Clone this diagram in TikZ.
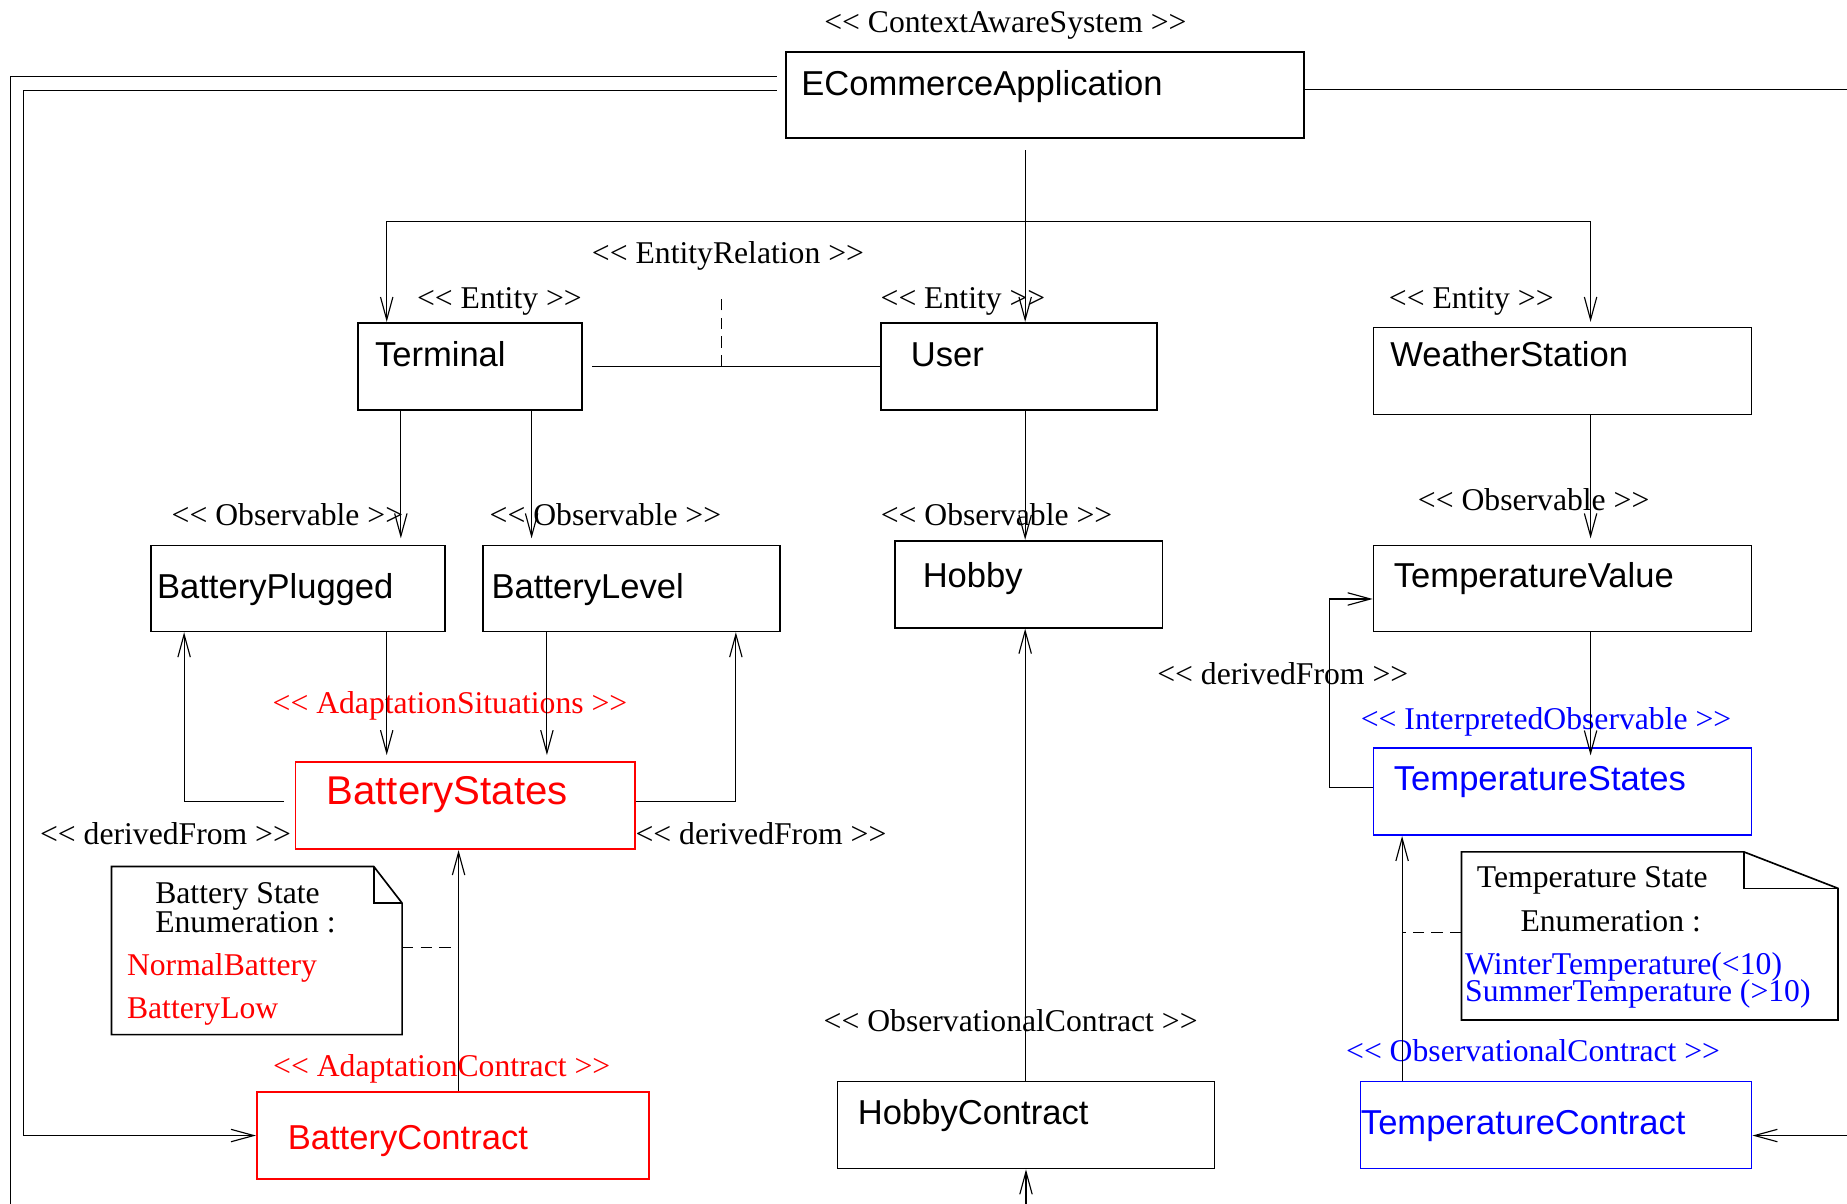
\documentclass[tikz,border=0pt]{standalone}
\usepackage{fontspec}
\setmainfont{Liberation Serif}
\newfontfamily\classfont{Liberation Sans}
\usetikzlibrary{arrows.meta}
\tikzstyle{conn} = [line width=0.55pt]
\tikzstyle{arrow} = [conn,->,>={Straight Barb[length=11pt,width=6pt]}]
\tikzstyle{dashline} = [conn,dash pattern=on 5.5pt off 3.5pt]
\tikzstyle{classbox} = [draw,line width=0.8pt,inner sep=0pt]
\tikzstyle{notebox} = [line width=0.8pt]
\tikzstyle{stereo} = [inner sep=0pt,anchor=base,font=\fontsize{15.3}{18}\selectfont]
\tikzstyle{notetext} = [inner sep=0pt,anchor=base west,font=\fontsize{15.3}{18}\selectfont]

\begin{document}
\begin{tikzpicture}[x=0.02cm,y=-0.02cm]
	\def \px {0.02cm}
	\useasboundingbox (0,0) rectangle (1568,1022);
	\coordinate (outB) at (9,1022);
	\coordinate (outR) at (1568,76);
	\coordinate (inR) at (1568,964);
	\coordinate (inB) at (871,1022);
	\coordinate (bus) at (871,188);
	% classes
	\foreach \nm/\lx/\ty/\rx/\by/\tx/\tb/\col/\fs/\txt in {
		ecom/667/44/1107/117/680/81/black/16.7/ECommerceApplication,
		term/304/274/494/348/318/311/black/16.7/Terminal,
		user/748/274/982/348/773/311/black/16.7/User,
		ws/1166/278/1487/352/1180/311/black/16.7/WeatherStation,
		bplug/128/463/378/536/133/508/black/16.7/BatteryPlugged,
		blev/410/463/662/536/417/508/black/16.7/BatteryLevel,
		hobby/760/459/987/533/783/499/black/16.7/Hobby,
		tval/1166/463/1487/536/1183/499/black/16.7/TemperatureValue,
		bstates/251/647/539/721/277/683/red/19.4/BatteryStates,
		tstates/1166/635/1487/709/1183/671/blue/16.7/TemperatureStates,
		bcon/218/927/551/1001/244/976/red/16.7/BatteryContract,
		hcon/711/918/1031/992/728/955/black/16.7/HobbyContract,
		tcon/1155/918/1487/992/1155/963/blue/16.7/TemperatureContract} {
		\node[classbox,draw=\col,minimum width=(\rx-\lx)*\px,minimum height=(\by-\ty)*\px] (\nm) at ({(\lx+\rx)/2},{(\ty+\by)/2}) {};
		\node[inner sep=0pt,anchor=base west,text=\col,font=\classfont\fontsize{\fs}{20}\selectfont] (\nm-name) at (\tx,\tb) {\txt};
	}
	% stereotypes
	\node[stereo] (ctx) at (853.5,28) {<{}< ContextAwareSystem >{}>};
	\node[stereo] (er) at (618,224) {<{}< EntityRelation >{}>};
	\node[stereo] (entT) at (424,262) {<{}< Entity >{}>};
	\node[stereo] (entU) at (817.5,262) {<{}< Entity >{}>};
	\node[stereo] (entW) at (1249,262) {<{}< Entity >{}>};
	\node[stereo] (obsP) at (244,446) {<{}< Observable >{}>};
	\node[stereo] (obsL) at (514,446) {<{}< Observable >{}>};
	\node[stereo] (obsH) at (846,446) {<{}< Observable >{}>};
	\node[stereo] (obsT) at (1302,433) {<{}< Observable >{}>};
	\node[stereo,text=red] (sit) at (382,606) {<{}< AdaptationSituations >{}>};
	\node[stereo] (derL) at (140.5,717) {<{}< derivedFrom >{}>};
	\node[stereo] (derR) at (646,717) {<{}< derivedFrom >{}>};
	\node[stereo] (derT) at (1089,581) {<{}< derivedFrom >{}>};
	\node[stereo,text=blue] (interp) at (1312.5,619) {<{}< InterpretedObservable >{}>};
	\node[stereo,text=red] (adc) at (375,914) {<{}< AdaptationContract >{}>};
	\node[stereo] (obsC) at (858,876) {<{}< ObservationalContract >{}>};
	\node[stereo,text=blue] (obsCT) at (1301.5,901) {<{}< ObservationalContract >{}>};
	% notes
	\node[inner sep=0pt,minimum width=246*\px,minimum height=142*\px] (bnote) at (218,807) {};
	\draw[notebox] (bnote.south west) -- (bnote.north west) -- ([xshift=-24*\px]bnote.north east) -- ([yshift=-31*\px]bnote.north east) -- (bnote.south east) -- cycle;
	\draw[notebox] ([xshift=-24*\px]bnote.north east) -- ++(0,31) -- ++(24,0);
	\node[notetext] (bnote1) at (131.5,767) {Battery State};
	\node[notetext] (bnote2) at (131.5,791.5) {Enumeration :};
	\node[notetext,text=red] (bnote3) at (107.5,828) {NormalBattery};
	\node[notetext,text=red] (bnote4) at (107.5,865) {BatteryLow};
	\node[inner sep=0pt,minimum width=319*\px,minimum height=142*\px] (tnote) at (1400.5,794.5) {};
	\draw[notebox] (tnote.south west) -- (tnote.north west) -- ([xshift=-80*\px]tnote.north east) -- ([yshift=-31*\px]tnote.north east) -- (tnote.south east) -- cycle;
	\draw[notebox] ([xshift=-80*\px]tnote.north east) -- ++(0,31) -- ++(80,0);
	\node[notetext] (tnote1) at (1253.5,753) {Temperature State};
	\node[notetext] (tnote2) at (1290.5,791) {Enumeration :};
	\node[notetext,text=blue] (tnote3) at (1243.5,827) {WinterTemperature(<10)};
	\node[notetext,text=blue] (tnote4) at (1243.5,850.5) {SummerTemperature (>10)};
	% connectors
	\draw[arrow] ([shift={(204,10)}]ecom.south west) coordinate (e1) -- (e1 |- user.north);
	\draw[arrow] (bus) -| ([xshift=25*\px]term.north west);
	\draw[arrow] (bus) -| ([shift={(185,-4)}]ws.north west);
	\draw[conn] ([shift={(-7,-15.4)}]ecom.west) -| (outB);
	\draw[arrow] ([shift={(-7,-3.5)}]ecom.west) -- ++(-639,0) |- (bcon.west);
	\draw[conn] (ecom.east |- outR) -- (outR);
	\draw[arrow] (inR) -- (inR -| tcon.east);
	\draw[conn] ([xshift=8*\px]term.east) -- (user.west);
	\draw[dashline] ([xshift=118*\px]term.east) -- ++(0,-62);
	\draw[arrow,shorten >=3pt] ([xshift=37*\px]term.south west) coordinate (t1) -- (t1 |- bplug.north);
	\draw[arrow,shorten >=3pt] ([xshift=148*\px]term.south west) coordinate (t2) -- (t2 |- blev.north);
	\draw[arrow] ([xshift=123*\px]user.south west) coordinate (u1) -- (u1 |- hobby.north);
	\draw[arrow,shorten >=3pt] ([xshift=185*\px]ws.south west) coordinate (w1) -- (w1 |- tval.north);
	\draw[arrow,shorten >=3pt] ([xshift=201*\px]bplug.south west) coordinate (p1) -- (p1 |- bstates.north);
	\draw[arrow,shorten >=3pt] ([xshift=55*\px]blev.south west) coordinate (l1) -- (l1 |- bstates.north);
	\draw[arrow] ([shift={(-9,-3.4)}]bstates.west) -| ([xshift=29*\px]bplug.south west);
	\draw[arrow] ([shift={(0,-3.4)}]bstates.east) -| ([xshift=-38*\px]blev.south east);
	\draw[arrow] ([xshift=172*\px]bcon.north west) coordinate (c1) -- (c1 |- bstates.south);
	\draw[dashline] ([yshift=3*\px]bnote.east) coordinate (n1) -- (n1 -| c1);
	\draw[arrow,shorten >=-4pt] ([xshift=185*\px]tval.south west) coordinate (v1) -- (v1 |- tstates.north);
	\draw[arrow] ([shift={(0,-3.5)}]tstates.west) -- ++(-37,0) |- ([yshift=-9*\px]tval.west);
	\draw[arrow] ([xshift=36*\px]tcon.north west) coordinate (c2) -- (c2 |- tstates.south);
	\draw[dashline] ([yshift=3*\px]tnote.west) coordinate (n2) -- (n2 -| c2);
	\draw[arrow] ([xshift=160*\px]hcon.north west) coordinate (h1) -- (h1 |- hobby.south);
	\draw[arrow] (inB) -- (inB |- hcon.south);
\end{tikzpicture}
\end{document}
